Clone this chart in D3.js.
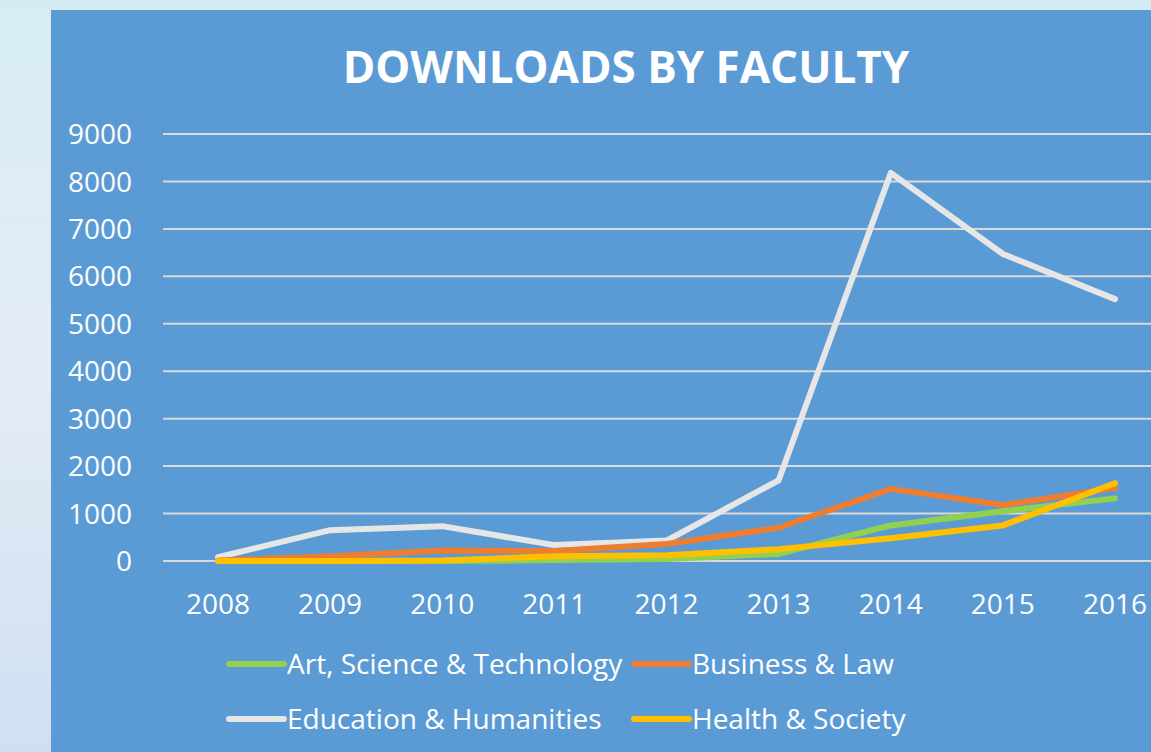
<!DOCTYPE html>
<html>
<head>
<meta charset="utf-8">
<script src="https://cdn.jsdelivr.net/npm/d3@7"></script>
<style>
  html, body { margin: 0; padding: 0; overflow: hidden; }
  body { width: 1151px; height: 752px; background: #dce9f3; }
  text { font-family: "Open Sans", "Noto Sans", sans-serif; fill: #ffffff; }
</style>
</head>
<body>
<div id="chart"></div>
<script>
// chart values
var years = ["2008", "2009", "2010", "2011", "2012", "2013", "2014", "2015", "2016"];
var faculties = ["Art, Science & Technology", "Business & Law", "Education & Humanities", "Health & Society"];
var artScience = [0, 0, 0, 20, 40, 150, 750, 1050, 1320];
var businessLaw = [10, 100, 220, 210, 360, 700, 1520, 1180, 1540];
var educationHum = [80, 650, 735, 335, 430, 1700, 8180, 6470, 5520];
var healthSociety = [0, 0, 10, 100, 120, 250, 480, 750, 1640];
var yTicks = [0, 1000, 2000, 3000, 4000, 5000, 6000, 7000, 8000, 9000];
var colors = ["#92d050", "#ed7d31", "#e7e6e6", "#ffc000"];

var width = 1151, height = 752;
var svg = d3.select("#chart").append("svg")
    .attr("width", width)
    .attr("height", height);

// page background behind the slide panel
var defs = svg.append("defs");
var bg = defs.append("linearGradient").attr("id", "bg")
    .attr("x1", 0).attr("y1", 0).attr("x2", 0).attr("y2", 1);
bg.append("stop").attr("offset", "0%").attr("stop-color", "#d6ecf5");
bg.append("stop").attr("offset", "50%").attr("stop-color", "#e4ebf6");
bg.append("stop").attr("offset", "100%").attr("stop-color", "#cfe0f1");
svg.append("rect").attr("width", width).attr("height", height).attr("fill", "url(#bg)");

// blue chart panel
svg.append("rect")
    .attr("x", 51).attr("y", 10)
    .attr("width", width - 51).attr("height", height - 10)
    .attr("fill", "#5b9bd5");

svg.append("text")
    .attr("x", 626).attr("y", 83)
    .attr("text-anchor", "middle")
    .style("font-size", "44px")
    .style("font-weight", "bold")
    .text("DOWNLOADS BY FACULTY");

var x = d3.scalePoint().domain(years).range([218, 1115]);
var y = d3.scaleLinear().domain([0, 9000]).range([561, 134]);

// gridlines
svg.append("g").selectAll("line")
    .data(yTicks)
    .enter().append("line")
    .attr("x1", 163).attr("x2", width)
    .attr("y1", function(d) { return y(d); })
    .attr("y2", function(d) { return y(d); })
    .attr("stroke", "#d9d9d9")
    .attr("stroke-width", 2);

// y tick labels
svg.append("g").selectAll("text")
    .data(yTicks)
    .enter().append("text")
    .attr("x", 132)
    .attr("y", function(d) { return y(d); })
    .attr("dy", "0.36em")
    .attr("text-anchor", "end")
    .style("font-size", "28px")
    .text(function(d) { return d; });

// x tick labels
svg.append("g").selectAll("text")
    .data(years)
    .enter().append("text")
    .attr("x", function(d) { return x(d); })
    .attr("y", 614)
    .attr("text-anchor", "middle")
    .style("font-size", "28px")
    .text(function(d) { return d; });

var series = [artScience, businessLaw, educationHum, healthSociety];
var line = d3.line()
    .x(function(d, i) { return x(years[i]); })
    .y(function(d) { return y(d); });

// draw order: white, orange, green, yellow on top
var order = [2, 1, 0, 3];
svg.append("g").selectAll("path")
    .data(order)
    .enter().append("path")
    .attr("d", function(k) { return line(series[k]); })
    .attr("fill", "none")
    .attr("stroke", function(k) { return colors[k]; })
    .attr("stroke-width", 6)
    .attr("stroke-linejoin", "round")
    .attr("stroke-linecap", "round");

// legend, two rows of two
var legendPos = [[229, 664], [634, 664], [229, 719], [634, 719]];
var legend = svg.append("g").selectAll("g")
    .data(faculties)
    .enter().append("g")
    .attr("transform", function(d, i) { return "translate(" + legendPos[i][0] + "," + legendPos[i][1] + ")"; });

legend.append("line")
    .attr("x1", 0).attr("x2", 55)
    .attr("stroke", function(d, i) { return colors[i]; })
    .attr("stroke-width", 6)
    .attr("stroke-linecap", "round");

legend.append("text")
    .attr("x", 58)
    .attr("dy", "0.36em")
    .style("font-size", "28px")
    .text(function(d) { return d; });
</script>
</body>
</html>
